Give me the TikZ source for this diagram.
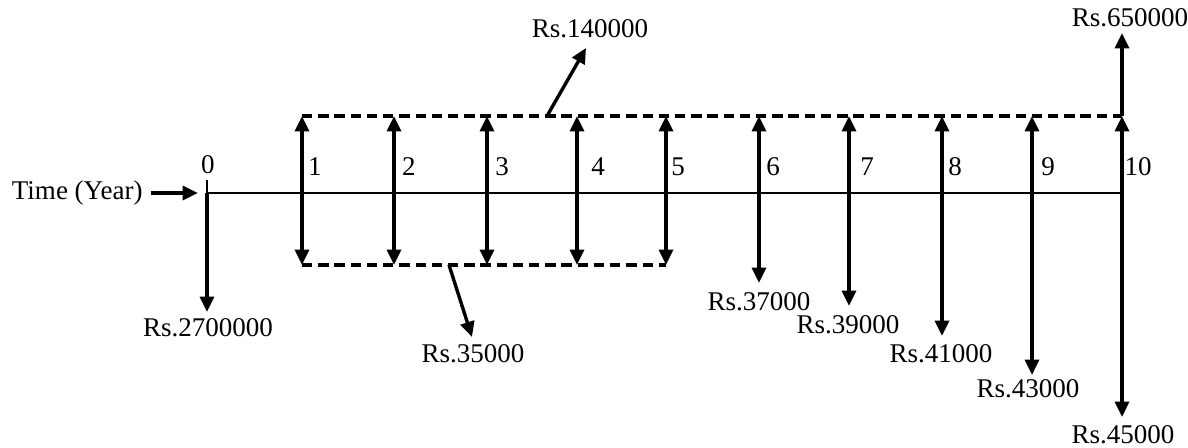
\documentclass[tikz,border=0pt]{standalone}
\usepackage{fontspec}
\setmainfont{Liberation Serif}
\usepackage{tikz}
\usetikzlibrary{arrows.meta}

\begin{document}
\begin{tikzpicture}[
    x=0.444pt, y=-0.444pt,
    >={Triangle[length=6.8pt,width=6.2pt]},
    axis/.style={line width=0.7pt},
    flow/.style={->, line width=1.5pt},
    both/.style={<->, line width=1.5pt},
    band/.style={line width=1.4pt, dash pattern=on 4.6pt off 2.6pt},
    yr/.style={font=\fontsize{12}{14}\selectfont, inner sep=0pt},
    amt/.style={font=\fontsize{12}{14}\selectfont, inner sep=0pt}
]
\useasboundingbox (0,0) rectangle (1188,447);

\coordinate (a0) at (207,193);
\coordinate (a10) at (1122,193);
\draw[axis] (a0) -- (a10);

\node[amt, anchor=east] (time) at (143,193) {Time (Year)};
\draw[flow, shorten <=3.5pt, shorten >=4pt] (time) -- (a0);

\coordinate (u0) at (207,180);
\coordinate (d0) at (207,312);
\draw[line width=1pt] (u0) -- (a0);
\draw[flow] (a0) -- (d0);
\node[yr] (y0) at (208,165) {0};
\node[amt] (v0) at (208,328) {Rs.2700000};

\coordinate (u1) at (302,116);
\coordinate (d1) at (302,265);
\coordinate (u2) at (394,116);
\coordinate (d2) at (394,265);
\coordinate (u3) at (487,116);
\coordinate (d3) at (487,265);
\coordinate (u4) at (577,116);
\coordinate (d4) at (577,265);
\coordinate (u5) at (666,116);
\coordinate (d5) at (666,265);
\coordinate (u6) at (759,116);
\coordinate (d6) at (759,283);
\coordinate (u7) at (849,116);
\coordinate (d7) at (849,306);
\coordinate (u8) at (942,116);
\coordinate (d8) at (942,336);
\coordinate (u9) at (1032,116);
\coordinate (d9) at (1032,375);
\coordinate (u10) at (1122,116);
\coordinate (d10) at (1122,417);
\coordinate (t10) at (1122,33);

\draw[band] (u1) -- (u10);
\draw[band] (d1) -- (d5);

\draw[both] (d1) -- (u1);
\draw[both] (d2) -- (u2);
\draw[both] (d3) -- (u3);
\draw[both] (d4) -- (u4);
\draw[both] (d5) -- (u5);
\draw[both] (d6) -- (u6);
\draw[both] (d7) -- (u7);
\draw[both] (d8) -- (u8);
\draw[both] (d9) -- (u9);
\draw[both] (d10) -- (u10);
\draw[flow] (u10) -- (t10);

\node[yr] (y1) at (315,167) {1};
\node[yr] (y2) at (409,167) {2};
\node[yr] (y3) at (502,167) {3};
\node[yr] (y4) at (598,167) {4};
\node[yr] (y5) at (678,167) {5};
\node[yr] (y6) at (773,167) {6};
\node[yr] (y7) at (867,167) {7};
\node[yr] (y8) at (955,167) {8};
\node[yr] (y9) at (1048,167) {9};
\node[yr] (y10) at (1138,167) {10};

\node[amt] (v6) at (759,302) {Rs.37000};
\node[amt] (v7) at (848,325) {Rs.39000};
\node[amt] (v8) at (941,354) {Rs.41000};
\node[amt] (v9) at (1028,389) {Rs.43000};
\node[amt] (v10) at (1123,435) {Rs.45000};
\node[amt] (w10) at (1130,18) {Rs.650000};

\coordinate (p1) at (547,116);
\coordinate (q1) at (586,48);
\draw[flow] (p1) -- (q1);
\node[amt] (in) at (590,29) {Rs.140000};

\coordinate (p2) at (449,265);
\coordinate (q2) at (472,337);
\draw[flow] (p2) -- (q2);
\node[amt] (out) at (473,354) {Rs.35000};
\end{tikzpicture}
\end{document}
